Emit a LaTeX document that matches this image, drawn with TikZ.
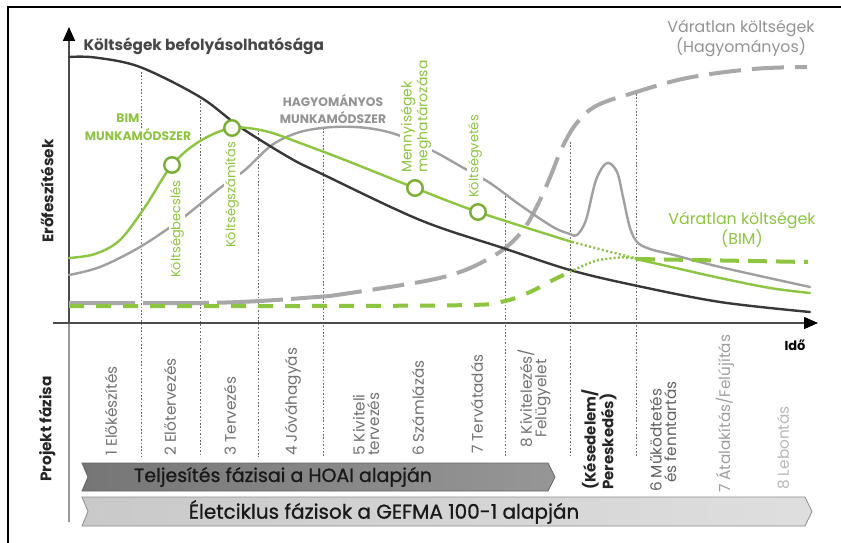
\documentclass[tikz,border=0pt]{standalone}
\usepackage{fontspec}
\setmainfont{Poppins}
\newfontfamily\bandfont{Poppins}[FakeBold=0.9]
\usetikzlibrary{arrows.meta}

\definecolor{bimgreen}{HTML}{8DC440}
\definecolor{bimring}{HTML}{7AAE34}
\definecolor{tradgray}{HTML}{A0A0A0}
\definecolor{infldark}{HTML}{383838}
\definecolor{riskgray}{HTML}{A8A8A8}
\definecolor{phasegray}{HTML}{727272}
\definecolor{guidegray}{HTML}{6A6A6A}
\definecolor{hoaifill}{HTML}{7C7C7C}
\definecolor{gefmafill}{HTML}{C9C9C9}

\tikzset{
  guide/.style={guidegray, line width=0.8pt, dash pattern=on 1.6pt off 1.8pt},
  curve/.style={line width=2.4pt, line cap=round, line join=round},
  riskline/.style={line width=4pt},
  milestone/.style={circle, draw=bimring, fill=white, line width=2.4pt,
    minimum size=15.5pt, inner sep=0pt},
  phaselabel/.style={rotate=90, anchor=west, inner sep=0pt, text=phasegray,
    font=\fontsize{15.3}{14.5}\selectfont},
  steplabel/.style={rotate=90, anchor=west, inner sep=1pt, fill=white,
    text=bimgreen, font=\fontsize{13}{13.5}\selectfont},
  methodlabel/.style={inner sep=1pt, font=\bfseries\fontsize{12.3}{17}\selectfont},
  axislabel/.style={rotate=90, text=black!85, font=\bfseries\fontsize{15.3}{17}\selectfont},
  band/.style={line width=0.8pt}
}

\begin{document}
\begin{tikzpicture}[x=1pt, y=-1pt]
\useasboundingbox (0,0) rectangle (841,543);
\fill[white] (0,0) rectangle (841,543);

% frame
\draw[line width=2pt, black] (8,543) -- (8,7) -- (841,7);

% phase boundaries
\coordinate (g1) at (141,72);  \coordinate (h1) at (141,457);
\coordinate (g2) at (200,100); \coordinate (h2) at (200,457);
\coordinate (g3) at (258,130); \coordinate (h3) at (258,457);
\coordinate (g4) at (323,128); \coordinate (h4) at (323,457);
\coordinate (g5) at (505,196); \coordinate (h5) at (505,457);
\coordinate (g6) at (570,142); \coordinate (h6) at (570,457);
\coordinate (g7) at (636,94);  \coordinate (h7) at (636,457);
\foreach \i in {1,...,7} \draw[guide] (g\i) -- (h\i);

% axes
\coordinate (origin) at (69,323);
\coordinate (ytop) at (69,27);
\coordinate (ybottom) at (69,522);
\coordinate (xleft) at (53,323);
\coordinate (xright) at (818,323);
\draw[gray!80, line width=1.3pt] (origin) -- (ybottom);
\draw[black!70, line width=1.5pt, -{Triangle[length=14pt,width=12pt,black]}] (origin) -- (ytop);
\draw[black!70, line width=1.5pt, -{Triangle[length=14pt,width=12pt,black]}] (xleft) -- (xright);

% unexpected costs, traditional
\draw[riskgray, riskline, dash pattern=on 66pt off 8pt]
  plot[smooth] coordinates {(69,303) (200,303) (260,301) (330,296)};
\draw[riskgray, riskline, dash pattern=on 32pt off 11pt]
  plot[smooth, tension=0.6] coordinates {(330,296) (420,282) (460,272) (490,258) (510,244)
    (526,226) (540,200) (551,175) (562,148) (576,124) (596,106) (633,93) (687,78) (753,69) (807,67)};

% effort curve, traditional workflow
\draw[curve, tradgray] plot[smooth, tension=0.55] coordinates {
  (69,275) (100,267) (140,247) (180,220) (220,188) (245,170) (272,145) (300,132)
  (333,127) (367,128) (398,135) (435,152) (460,166) (490,183) (520,205) (553,227)
  (570,234) (577,235) (586,220) (596,180) (607,163) (617,172) (623,197) (630,228)
  (638,243) (653,250) (670,254) (720,267) (810,287)};

% influence on costs
\draw[curve, infldark] plot[smooth, tension=0.55] coordinates {
  (69,57) (95,57.5) (140,67) (200,97) (240,127) (290,158) (320,173) (420,220)
  (503,248) (570,270) (633,285) (720,302) (810,312)};

% unexpected costs, BIM
\draw[bimgreen, riskline, dash pattern=on 15pt off 12pt]
  plot[smooth, tension=0.6] coordinates {(69,306) (300,306) (470,305) (505,301) (530,292) (553,280) (570,272)};
\draw[bimgreen, line width=2.4pt, dash pattern=on 2pt off 2.2pt]
  plot[smooth] coordinates {(570,272) (595,261) (620,257.5) (636,258.5)};
\draw[bimgreen, riskline, dash pattern=on 19pt off 9pt] (636,259) -- (808,262);

% labels along the curves
\node[steplabel] (s1) at (177,279) {Költségbecslés};
\node[steplabel] (s2) at (232,249) {Költségszámítás};
\node[steplabel, align=left, font=\fontsize{14}{13.5}\selectfont] (s3) at (416,174) {Mennyiségek\\meghatározása};
\node[steplabel] (s4) at (475,199) {Költségvetés};

\node[methodlabel, text=bimgreen] (bim1) at (128,118) {BIM};
\node[methodlabel, text=bimgreen, fill=white] (bim2) at (138,135) {MUNKAMÓDSZER};
\node[methodlabel, text=gray!85, align=center] (trad) at (333,109) {HAGYOMÁNYOS\\MUNKAMÓDSZER};

% effort curve, BIM workflow
\draw[curve, bimgreen] plot[smooth, tension=0.55] coordinates {
  (69,258) (95,254) (120,240) (145,207) (172,165) (200,141) (232,128) (265,131)
  (300,143) (350,162) (415,188) (478,212) (572,242)};
\draw[bimgreen, line width=2.4pt, dash pattern=on 2pt off 2.4pt] (572,242) -- (636,258.5);
\draw[curve, bimgreen] plot[smooth, tension=0.55] coordinates {
  (636,259) (680,269) (720,278) (770,288) (810,293)};

\node[milestone] (m1) at (172,165) {};
\node[milestone] (m2) at (232,128) {};
\node[milestone] (m3) at (415,188) {};
\node[milestone] (m4) at (478,212) {};

% titles
\node[anchor=west, text=black!72, font=\bfseries\fontsize{15.3}{17}\selectfont] (infl) at (80,46) {Költségek befolyásolhatósága};
\node[align=center, text=gray!85, font=\fontsize{15.8}{15.5}\selectfont] (riskt) at (741,38) {Váratlan költségek\\(Hagyományos)};
\node[align=center, text=bimgreen, font=\fontsize{15.8}{19}\selectfont] (riskb) at (742,230) {Váratlan költségek\\(BIM)};
\node[font=\bfseries\fontsize{13}{15}\selectfont] (ido) at (795,345) {Idő};
\node[axislabel] (effort) at (47,191) {Erőfeszítések};
\node[axislabel] (phase) at (47,429) {Projekt fázisa};

% project phases
\node[phaselabel] (p1) at (111,456) {1 Előkészítés};
\node[phaselabel] (p2) at (170,456) {2 Előtervezés};
\node[phaselabel] (p3) at (230,456) {3 Tervezés};
\node[phaselabel] (p4) at (293,456) {4 Jóváhagyás};
\node[phaselabel, align=left] (p5) at (366,456) {5 Kiviteli\\tervezés};
\node[phaselabel] (p6) at (418,456) {6 Számlázás};
\node[phaselabel] (p7) at (477,454) {7 Tervátadás};
\node[phaselabel, align=center] (p8) at (534,448) {8 Kivitelezés/\\Felügyelet};
\node[phaselabel, align=left, text=black!85, font=\bfseries\fontsize{15}{14.5}\selectfont] (delay) at (599,490) {(Késedelem/\\Pereskedés)};
\node[phaselabel, align=left, text=black!62] (q6) at (663,492) {6 Működtetés\\\hspace*{9pt}és fenntartás};
\node[phaselabel, text=black!38] (q7) at (725,493) {7 Átalakítás/Felújítás};
\node[phaselabel, text=black!28] (q8) at (783,490) {8 Lebontás};

% phase bands
\shade[left color=hoaifill!95!black, right color=hoaifill!80!white]
  (82,463) -- (548,463) -- (555,477) -- (548,491) -- (82,491) -- (88,477) -- cycle;
\draw[band, black!60] (82,463) -- (548,463) -- (555,477) -- (548,491) -- (82,491) -- (88,477) -- cycle;
\node[text=black!90, font=\bandfont\fontsize{19}{20}\selectfont] (hoai) at (283,477) {Teljesítés fázisai a HOAI alapján};

\shade[left color=gefmafill, right color=gefmafill!60!white]
  (82,497) -- (805,497) -- (812,511.5) -- (805,526) -- (82,526) -- (88,511.5) -- cycle;
\draw[band, black!45] (82,497) -- (805,497) -- (812,511.5) -- (805,526) -- (82,526) -- (88,511.5) -- cycle;
\node[text=black!90, font=\bandfont\fontsize{20}{21}\selectfont] (gefma) at (384,512) {Életciklus fázisok a GEFMA 100-1 alapján};
\end{tikzpicture}
\end{document}
